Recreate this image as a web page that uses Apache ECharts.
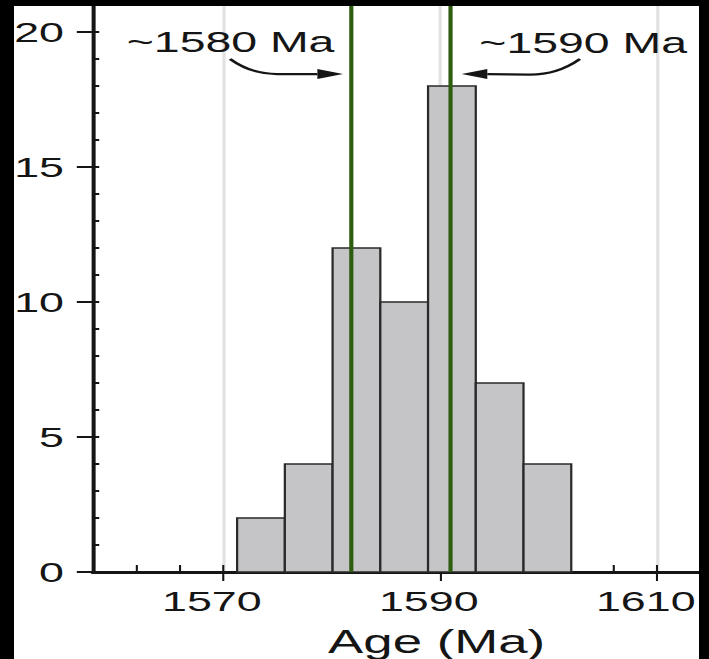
<!DOCTYPE html>
<html>
<head>
<meta charset="utf-8">
<script src="https://cdn.jsdelivr.net/npm/echarts@6/dist/echarts.min.js"></script>
<style>
  html, body { margin: 0; padding: 0; background: #ffffff; overflow: hidden; }
  #stage { position: relative; width: 709px; height: 659px; overflow: hidden; background: #ffffff; }
  #chart { position: absolute; left: 0; top: 0; width: 443px; height: 659px; transform-origin: 0 0; transform: scaleX(1.60045); }
  #frame { position: absolute; left: 0; top: 0; width: 709px; height: 659px; box-sizing: border-box;
           border-left: 14px solid #000; border-top: 6px solid #000; border-right: 10px solid #000; border-bottom: 0;
           pointer-events: none; }
</style>
</head>
<body>
<div id="stage">
  <div id="chart"></div>
  <div id="frame"></div>
</div>
<script>
// ---- data ----
const binEdges = [1571.3, 1575.7, 1580.1, 1584.5, 1588.9, 1593.3, 1597.7, 1602.1];
const counts = [2, 4, 12, 10, 18, 7, 4];
const markerAges = [1581.8, 1590.9];
const markerLabels = ['~1580 Ma', '~1590 Ma'];
const labelAnchors = [[1570.7, 19.63], [1603.2, 19.6]];
const arrowStarts = [[1570.65, 19.0], [1602.9, 19.0]];
const arrowBends = [[1574.98, 18.44], [1598.3, 18.42]];
const arrowTips = [[1581.06, 18.44], [1592.0, 18.44]];
const xTickLabels = [1570, 1590, 1610];
const xMinorTicks = [1562, 1566, 1570, 1574, 1578, 1582, 1586, 1590, 1594, 1598, 1602, 1606, 1610];
const yTickLabels = [0, 5, 10, 15, 20];
const yMinorTicks = [1, 2, 3, 4, 5, 6, 7, 8, 9, 10, 11, 12, 13, 14, 15, 16, 17, 18, 19, 20];
const xAxisName = 'Age (Ma)';

// ---- build series data ----
const binData = counts.map((c, i) => [binEdges[i], binEdges[i + 1], c]);
const annoData = markerLabels.map((_, i) => [
  labelAnchors[i][0], labelAnchors[i][1],
  arrowStarts[i][0], arrowStarts[i][1],
  arrowBends[i][0], arrowBends[i][1],
  arrowTips[i][0], arrowTips[i][1]
]);

const FONT = '"Liberation Sans", Arial, Helvetica, sans-serif';
const INK = '#151515';
const plain = v => String(v);

const chart = echarts.init(document.getElementById('chart'), null, { renderer: 'svg', width: 443, height: 659 });

const option = {
  animation: false,
  backgroundColor: 'transparent',
  grid: { left: 58, right: 5.4, top: 5, bottom: 87, containLabel: false, outerBoundsMode: 'none' },
  xAxis: [
    {
      type: 'value', min: 1558, max: 1614, position: 'bottom',
      axisLine: { show: true, onZero: false, lineStyle: { color: INK, width: 3 } },
      axisTick: { show: true, customValues: xTickLabels, inside: false, length: 9, lineStyle: { color: INK, width: 1.3 } },
      axisLabel: { show: true, customValues: xTickLabels, formatter: plain, margin: 15, fontSize: 28, fontFamily: FONT, color: INK, padding: [0, 14, 0, 0] },
      splitLine: { show: true, lineStyle: { color: '#e2e2e2', width: 2 } },
      name: xAxisName, nameLocation: 'middle', nameGap: 53,
      nameTextStyle: { fontSize: 33, fontFamily: FONT, color: INK, padding: [0, 0, 0, 50] }
    },
    {
      type: 'value', min: 1558, max: 1614, position: 'bottom', offset: 0,
      axisLine: { show: false },
      axisTick: { show: true, customValues: xMinorTicks, inside: true, length: 7, lineStyle: { color: INK, width: 1.3 } },
      axisLabel: { show: false },
      splitLine: { show: false }
    }
  ],
  yAxis: [
    {
      type: 'value', min: 0, max: 21, position: 'left',
      axisLine: { show: true, onZero: false, lineStyle: { color: INK, width: 2.5 } },
      axisTick: { show: true, customValues: yTickLabels, inside: false, length: 10, lineStyle: { color: INK, width: 2 } },
      axisLabel: { show: true, customValues: yTickLabels, formatter: plain, margin: 18, fontSize: 28, fontFamily: FONT, color: INK },
      splitLine: { show: false }
    },
    {
      type: 'value', min: 0, max: 21, position: 'left', offset: 0,
      axisLine: { show: false },
      axisTick: { show: true, customValues: yMinorTicks, inside: true, length: 4, lineStyle: { color: INK, width: 2 } },
      axisLabel: { show: false },
      splitLine: { show: false }
    }
  ],
  series: [
    {
      type: 'custom', name: 'histogram', xAxisIndex: 0, yAxisIndex: 0, z: 3,
      encode: { x: [0, 1], y: 2 },
      data: binData,
      renderItem: function (params, api) {
        const p0 = api.coord([api.value(0), api.value(2)]);
        const p1 = api.coord([api.value(1), 0]);
        return {
          type: 'rect',
          shape: { x: p0[0], y: p0[1], width: p1[0] - p0[0], height: p1[1] - p0[1] },
          style: { fill: '#c5c5c7', stroke: '#2a2a2a', lineWidth: 1.4 }
        };
      },
      markLine: {
        silent: true, symbol: ['none', 'none'], z: 5,
        label: { show: false },
        lineStyle: { color: '#2e5d10', width: 2.6, type: 'solid' },
        data: markerAges.map(v => ({ xAxis: v }))
      }
    },
    {
      type: 'custom', name: 'annotations', xAxisIndex: 0, yAxisIndex: 0, z: 10,
      encode: { x: [0, 2, 4, 6], y: [1, 3, 5, 7] },
      data: annoData,
      renderItem: function (params, api) {
        const i = params.dataIndex;
        const L = api.coord([api.value(0), api.value(1)]);
        const S = api.coord([api.value(2), api.value(3)]);
        const B = api.coord([api.value(4), api.value(5)]);
        const T = api.coord([api.value(6), api.value(7)]);
        const dir = T[0] > B[0] ? 1 : -1;
        const headLen = 16, headHalf = 5;
        const base = T[0] - dir * headLen;
        const cp = [S[0] + (B[0] - S[0]) * 0.45, B[1]];
        return {
          type: 'group',
          children: [
            {
              type: 'text',
              style: {
                text: markerLabels[i], x: L[0], y: L[1], align: 'center', verticalAlign: 'middle',
                fontSize: 29, fontFamily: FONT, fill: INK
              }
            },
            {
              type: 'bezierCurve',
              shape: { x1: S[0], y1: S[1], x2: B[0], y2: B[1], cpx1: cp[0], cpy1: cp[1] },
              style: { stroke: INK, lineWidth: 2.2, fill: 'none' }
            },
            {
              type: 'line',
              shape: { x1: B[0], y1: B[1], x2: base, y2: T[1] },
              style: { stroke: INK, lineWidth: 2.2 }
            },
            {
              type: 'polygon',
              shape: { points: [[T[0], T[1]], [base, T[1] - headHalf], [base, T[1] + headHalf]] },
              style: { fill: INK }
            }
          ]
        };
      }
    }
  ]
};

chart.setOption(option);
</script>
</body>
</html>
